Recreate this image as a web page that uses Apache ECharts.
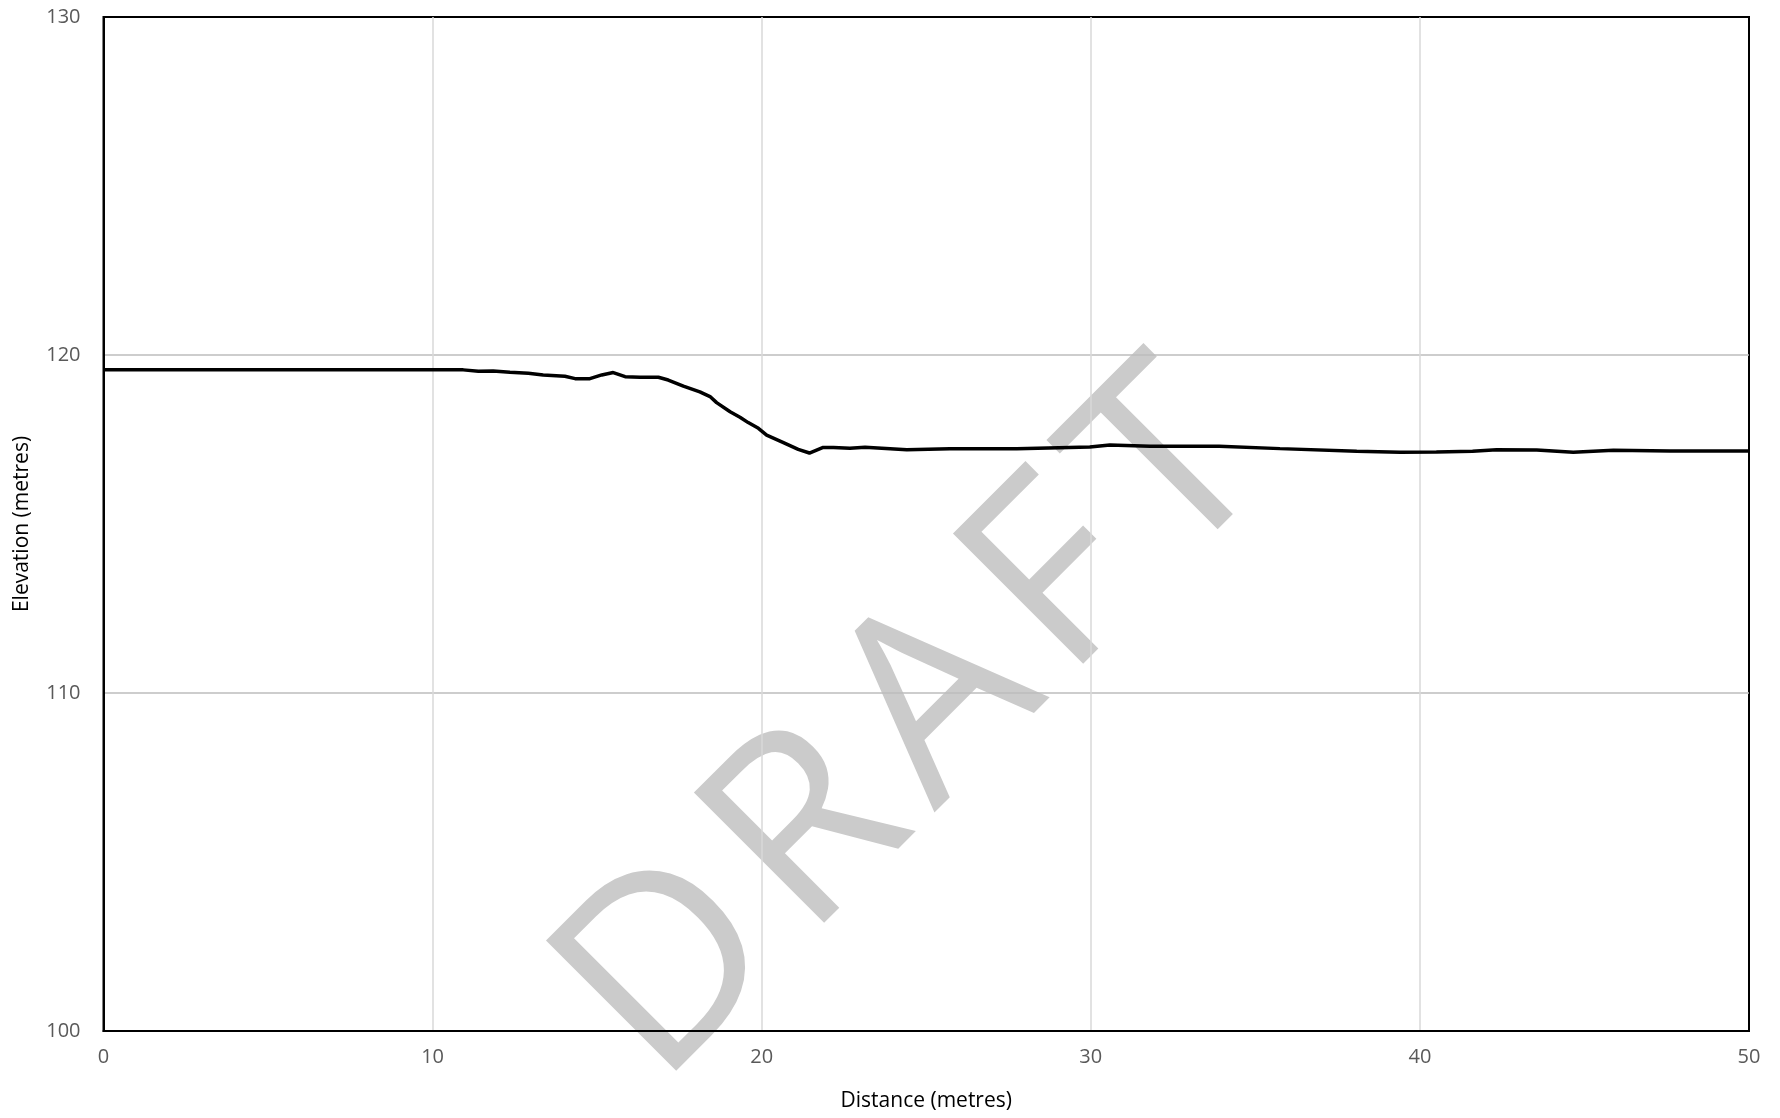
<!DOCTYPE html>
<html>
<head>
<meta charset="utf-8">
<script src="https://cdn.jsdelivr.net/npm/echarts@6/dist/echarts.min.js"></script>
<style>
html,body{margin:0;padding:0;background:#fff;}
#c{width:1780px;height:1118px;}
</style>
</head>
<body>
<div id="c"></div>
<script>
// Distance (metres)
var distance = [0, 10.93, 11.39, 11.84, 12.35, 12.91, 13.36, 14.02, 14.33, 14.78,
  15.14, 15.49, 15.85, 16.30, 16.86, 17.16, 17.62, 18.12, 18.43, 18.63,
  19.04, 19.34, 19.59, 19.90, 20.15, 20.66, 21.11, 21.45, 21.85, 22.18,
  22.68, 23.14, 24.41, 25.72, 27.75, 29.97, 30.58, 31.80, 33.90, 35.75,
  38.08, 39.40, 40.50, 41.60, 42.33, 43.55, 44.66, 45.88, 47.60, 50.00];
// Elevation (metres)
var elevation = [119.56, 119.56, 119.52, 119.53, 119.49, 119.46, 119.41, 119.37, 119.30, 119.30,
  119.41, 119.48, 119.36, 119.34, 119.34, 119.26, 119.08, 118.91, 118.77, 118.59,
  118.32, 118.16, 118.00, 117.83, 117.63, 117.41, 117.21, 117.10, 117.26, 117.26,
  117.24, 117.27, 117.20, 117.23, 117.23, 117.28, 117.34, 117.30, 117.30, 117.23,
  117.15, 117.12, 117.13, 117.15, 117.20, 117.19, 117.12, 117.18, 117.16, 117.16];
var xTicks = {min: 0, max: 50, interval: 10};
var yTicks = {min: 100, max: 130, interval: 10};
var xTitle = 'Distance (metres)';
var yTitle = 'Elevation (metres)';
var watermark = 'DRAFT';

var pts = distance.map(function (d, i) { return [d, elevation[i]]; });
var FONT = 'Open Sans';

// watermark layout: letters spaced along a 45 degree line
var WM_SIZE = 258, WM_LEN = 847;
var ctx = document.createElement('canvas').getContext('2d');
ctx.font = WM_SIZE + 'px "' + FONT + '"';
var letters = watermark.split('');
var adv = letters.map(function (ch) { return ctx.measureText(ch).width; });
var sumAdv = adv.reduce(function (a, b) { return a + b; }, 0);
var gap = (WM_LEN + 0.1 * WM_SIZE - sumAdv) / (letters.length - 1);
var total = sumAdv + gap * (letters.length - 1);
var cur = -total / 2;
var wmChildren = letters.map(function (ch, i) {
  var el = {type: 'text', x: cur, y: 0, silent: true,
    style: {text: ch, fontSize: WM_SIZE, fontFamily: FONT, fill: '#cbcbcb',
      textAlign: 'left', textVerticalAlign: 'middle'}};
  cur += adv[i] + gap;
  return el;
});

var chart = echarts.init(document.getElementById('c'));
chart.setOption({
  animation: false,
  backgroundColor: '#ffffff',
  grid: {left: 103.5, right: 31, top: 17, bottom: 87, show: true, borderColor: '#000', borderWidth: 2, backgroundColor: 'transparent'},
  xAxis: {
    type: 'value', min: xTicks.min, max: xTicks.max, interval: xTicks.interval,
    name: xTitle, nameLocation: 'middle', nameGap: 60,
    nameTextStyle: {color: '#000', fontSize: 21, fontFamily: FONT},
    axisLine: {show: true, lineStyle: {color: '#000', width: 2}},
    axisTick: {show: false},
    axisLabel: {color: '#595959', fontSize: 20, fontFamily: FONT, margin: 16},
    splitLine: {show: true, showMinLine: false, showMaxLine: false, lineStyle: {color: '#d9d9d9', width: 1.5}}
  },
  yAxis: {
    type: 'value', min: yTicks.min, max: yTicks.max, interval: yTicks.interval,
    name: yTitle, nameLocation: 'middle', nameGap: 71,
    nameTextStyle: {color: '#000', fontSize: 21, fontFamily: FONT},
    axisLine: {show: true, lineStyle: {color: '#000', width: 2}},
    axisTick: {show: false},
    axisLabel: {color: '#595959', fontSize: 20, fontFamily: FONT, margin: 23},
    splitLine: {show: true, showMinLine: false, showMaxLine: false, lineStyle: {color: '#bdbdbd', width: 1.5}}
  },
  graphic: {
    elements: [{
      type: 'group', x: 915, y: 728, rotation: Math.PI / 4, z: 0, silent: true,
      children: wmChildren
    }]
  },
  series: [{
    type: 'line', data: pts, showSymbol: false, symbol: 'none', z: 5,
    lineStyle: {color: '#000', width: 3.5}
  }]
});
</script>
</body>
</html>
